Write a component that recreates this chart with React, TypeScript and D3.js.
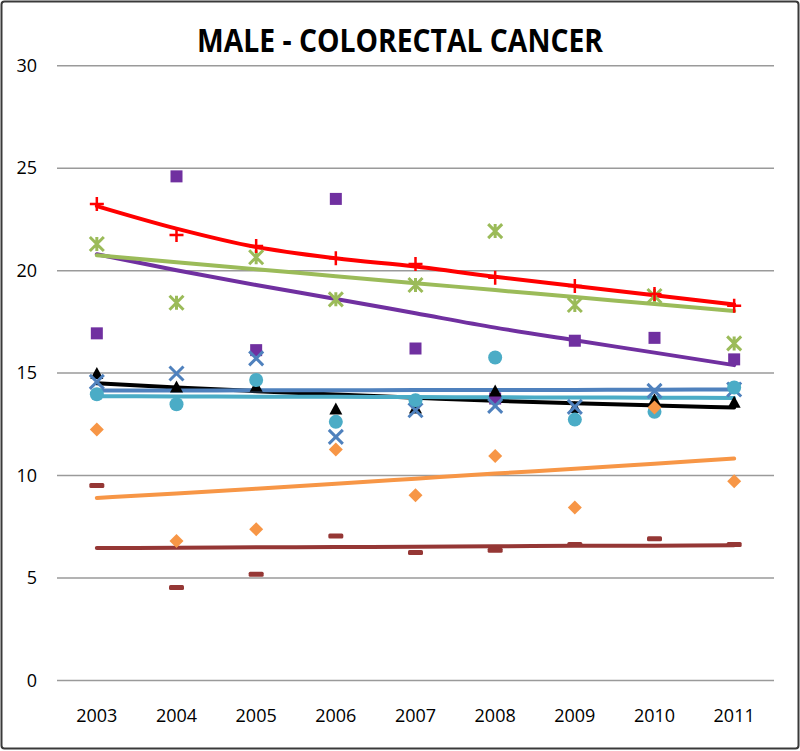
import * as d3 from "d3";

const YEARS = ["2003", "2004", "2005", "2006", "2007", "2008", "2009", "2010", "2011"];
const Y_TICKS = [0, 5, 10, 15, 20, 25, 30];

// observed rates, one array per series
const RED_PLUS = [23.25, 21.74, 21.2, 20.6, 20.32, 19.65, 19.25, 18.86, 18.29];
const GREEN_STAR = [21.3, 18.43, 20.65, 18.6, 19.3, 21.93, 18.32, 18.76, 16.45];
const PURPLE_SQUARE = [16.94, 24.6, 16.12, 23.5, 16.2, 13.76, 16.58, 16.72, 15.67];
const BLUE_X = [14.57, 14.98, 15.72, 11.89, 13.19, 13.4, 13.35, 14.13, 14.2];
const BLACK_TRIANGLE = [14.95, 14.3, 14.33, 13.22, 13.27, 14.1, 13.3, 13.68, 13.55];
const CYAN_CIRCLE = [13.97, 13.48, 14.66, 12.62, 13.68, 15.76, 12.73, 13.11, 14.3];
const ORANGE_DIAMOND = [12.25, 6.81, 7.38, 11.27, 9.04, 10.96, 8.44, 13.32, 9.72];
const DARKRED_DASH = [9.51, 4.54, 5.19, 7.05, 6.24, 6.35, 6.64, 6.92, 6.64];

// trend lines as drawn
const RED_TREND = [23.15, 22.05, 21.15, 20.6, 20.2, 19.7, 19.25, 18.8, 18.35];
const GREEN_TREND = [20.75, 20.41, 20.07, 19.73, 19.39, 19.05, 18.71, 18.37, 18.03];
const PURPLE_TREND = [20.8, 20.02, 19.3, 18.62, 17.92, 17.22, 16.6, 16.0, 15.39];
const BLUE_TREND = [14.15, 14.15, 14.16, 14.16, 14.17, 14.18, 14.18, 14.19, 14.2];
const BLACK_TREND = [14.5, 14.3, 14.12, 13.95, 13.8, 13.65, 13.53, 13.42, 13.32];
const CYAN_TREND = [13.87, 13.86, 13.85, 13.84, 13.83, 13.82, 13.81, 13.8, 13.79];
const ORANGE_TREND = [8.91, 9.13, 9.36, 9.6, 9.85, 10.1, 10.33, 10.58, 10.83];
const DARKRED_TREND = [6.46, 6.48, 6.5, 6.51, 6.53, 6.55, 6.57, 6.58, 6.6];

const W = 800;
const H = 751;
const FONT = "'Open Sans', 'Liberation Sans', sans-serif";

type Shape = "plus" | "star" | "square" | "x" | "triangle" | "circle" | "diamond" | "dash";

interface Series {
  values: number[];
  color: string;
  shape: Shape;
}

const TRENDS: { values: number[]; color: string }[] = [
  { values: ORANGE_TREND, color: "#F79646" },
  { values: DARKRED_TREND, color: "#953735" },
  { values: BLACK_TREND, color: "#000000" },
  { values: BLUE_TREND, color: "#4F81BD" },
  { values: CYAN_TREND, color: "#4BACC6" },
  { values: PURPLE_TREND, color: "#7030A0" },
  { values: GREEN_TREND, color: "#9BBB59" },
  { values: RED_TREND, color: "#FF0000" },
];

const SERIES: Series[] = [
  { values: PURPLE_SQUARE, color: "#7030A0", shape: "square" },
  { values: BLACK_TRIANGLE, color: "#000000", shape: "triangle" },
  { values: BLUE_X, color: "#4F81BD", shape: "x" },
  { values: CYAN_CIRCLE, color: "#4BACC6", shape: "circle" },
  { values: ORANGE_DIAMOND, color: "#F79646", shape: "diamond" },
  { values: DARKRED_DASH, color: "#953735", shape: "dash" },
  { values: GREEN_STAR, color: "#9BBB59", shape: "star" },
  { values: RED_PLUS, color: "#FF0000", shape: "plus" },
];

const Marker = ({ shape, cx, cy, color }: { shape: Shape; cx: number; cy: number; color: string }) => {
  const s = 7;
  switch (shape) {
    case "plus":
      return (
        <path
          d={`M${cx - s},${cy}H${cx + s}M${cx},${cy - s}V${cy + s}`}
          stroke={color}
          strokeWidth={2.5}
        />
      );
    case "star":
      return (
        <path
          d={`M${cx - s},${cy - s}L${cx + s},${cy + s}M${cx - s},${cy + s}L${cx + s},${cy - s}M${cx},${cy - s}V${cy + s}`}
          stroke={color}
          strokeWidth={3}
        />
      );
    case "x":
      return (
        <path
          d={`M${cx - s},${cy - s}L${cx + s},${cy + s}M${cx - s},${cy + s}L${cx + s},${cy - s}`}
          stroke={color}
          strokeWidth={3}
        />
      );
    case "square":
      return <rect x={cx - 6} y={cy - 6} width={12} height={12} fill={color} />;
    case "triangle":
      return <path d={`M${cx},${cy - 7}L${cx + 6.5},${cy + 5}L${cx - 6.5},${cy + 5}Z`} fill={color} />;
    case "circle":
      return <circle cx={cx} cy={cy} r={7} fill={color} />;
    case "diamond":
      return <path d={`M${cx},${cy - 7}L${cx + 7},${cy}L${cx},${cy + 7}L${cx - 7},${cy}Z`} fill={color} />;
    case "dash":
      return <rect x={cx - 7.5} y={cy - 2.5} width={15} height={5} rx={1.5} fill={color} />;
  }
};

export default function App() {
  const x = d3.scaleBand<string>().domain(YEARS).range([57, 774]).padding(0);
  const cx = (yr: string) => (x(yr) ?? 0) + x.bandwidth() / 2;
  const y = d3.scaleLinear().domain([0, 30]).range([680.5, 65.7]);

  const line = d3
    .line<number>()
    .x((_, i) => cx(YEARS[i]))
    .y((d) => y(d))
    .curve(d3.curveMonotoneX);

  return (
    <div style={{ position: "absolute", left: 0, top: 0 }}>
      <svg width={W} height={H} style={{ display: "block" }}>
        <rect x={0} y={0} width={W} height={H} fill="#fff" />
        <rect x={1.5} y={1.5} width={W - 3} height={H - 4} rx={3} fill="none" stroke="#3a3a3a" strokeWidth={2} />

        <text
          x={W / 2}
          y={51.5}
          textAnchor="middle"
          fontFamily={FONT}
          fontWeight={700}
          fontSize={31.5}
          textLength={406}
          lengthAdjust="spacingAndGlyphs"
          fill="#000"
        >
          MALE - COLORECTAL CANCER
        </text>

        {Y_TICKS.map((t) => (
          <g key={t}>
            <line x1={57} x2={774} y1={y(t)} y2={y(t)} stroke="#9a9a9a" strokeWidth={1.5} />
            <text
              x={37}
              y={y(t)}
              dy="0.35em"
              textAnchor="end"
              fontFamily={FONT}
              fontSize={18}
              fill="#000"
            >
              {t}
            </text>
          </g>
        ))}

        {YEARS.map((yr) => (
          <text
            key={yr}
            x={cx(yr)}
            y={722}
            textAnchor="middle"
            fontFamily={FONT}
            fontSize={18}
            fill="#000"
          >
            {yr}
          </text>
        ))}

        {TRENDS.map((t, i) => (
          <path
            key={i}
            d={line(t.values) ?? ""}
            fill="none"
            stroke={t.color}
            strokeWidth={4}
            strokeLinecap="round"
          />
        ))}

        {SERIES.map((s, si) =>
          s.values.map((v, i) => (
            <Marker key={`${si}-${i}`} shape={s.shape} cx={cx(YEARS[i])} cy={y(v)} color={s.color} />
          ))
        )}
      </svg>
    </div>
  );
}
